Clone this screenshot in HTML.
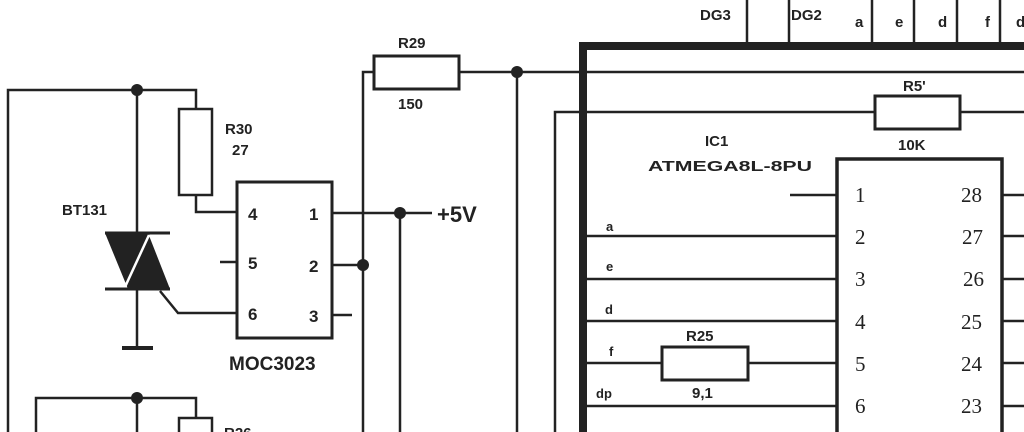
<!DOCTYPE html>
<html><head><style>
html,body{margin:0;padding:0;background:#fff;width:1024px;height:432px;overflow:hidden}
svg{display:block}
.s{font-family:"Liberation Sans",sans-serif;font-weight:bold;fill:#222}
.n{font-family:"Liberation Serif",serif;fill:#222;font-size:21px}
</style></head><body>
<svg width="1024" height="432" viewBox="0 0 1024 432" xmlns="http://www.w3.org/2000/svg" overflow="hidden">
<g stroke="#222" stroke-width="2.5" fill="none">
<polyline points="8,432 8,90 196,90 196,109"/>
<rect x="179" y="109" width="33" height="86"/>
<polyline points="196,195 196,212 237,212"/>
<line x1="137" y1="90" x2="137" y2="348"/>
<line x1="122" y1="348" x2="153" y2="348" stroke-width="4"/>
<line x1="105" y1="233" x2="170" y2="233" stroke-width="3"/>
<line x1="105" y1="289" x2="170" y2="289" stroke-width="3"/>
<polyline points="160,291 178,313 237,313"/>
<rect x="237" y="182" width="95" height="156" stroke-width="3"/>
<line x1="220" y1="262" x2="237" y2="262"/>
<line x1="332" y1="315" x2="352" y2="315"/>
<line x1="332" y1="213" x2="432" y2="213"/>
<line x1="332" y1="265" x2="363" y2="265"/>
<polyline points="363,432 363,72 374,72"/>
<line x1="400" y1="213" x2="400" y2="432"/>
<rect x="374" y="56" width="85" height="33" stroke-width="3"/>
<line x1="459" y1="72" x2="1024" y2="72"/>
<line x1="517" y1="72" x2="517" y2="432"/>
<polyline points="555,432 555,112 875,112"/>
<rect x="875" y="96" width="85" height="33" stroke-width="3"/>
<line x1="960" y1="112" x2="1024" y2="112"/>
<line x1="747" y1="0" x2="747" y2="44"/>
<line x1="789" y1="0" x2="789" y2="44"/>
<line x1="872" y1="0" x2="872" y2="44"/>
<line x1="914" y1="0" x2="914" y2="44"/>
<line x1="957" y1="0" x2="957" y2="44"/>
<line x1="1000" y1="0" x2="1000" y2="44"/>
<polyline points="583,432 583,46 1024,46" stroke-width="8"/>
<polyline points="837,432 837,159 1002,159 1002,432" stroke-width="3.5"/>
<line x1="790" y1="195" x2="837" y2="195"/>
<line x1="587" y1="236" x2="837" y2="236"/>
<line x1="587" y1="279" x2="837" y2="279"/>
<line x1="587" y1="321" x2="837" y2="321"/>
<line x1="587" y1="363" x2="662" y2="363"/>
<line x1="748" y1="363" x2="837" y2="363"/>
<rect x="662" y="347" width="86" height="33" stroke-width="3"/>
<line x1="587" y1="406" x2="837" y2="406"/>
<line x1="1002" y1="195" x2="1024" y2="195"/>
<line x1="1002" y1="236" x2="1024" y2="236"/>
<line x1="1002" y1="279" x2="1024" y2="279"/>
<line x1="1002" y1="321" x2="1024" y2="321"/>
<line x1="1002" y1="363" x2="1024" y2="363"/>
<line x1="1002" y1="406" x2="1024" y2="406"/>
<polyline points="36,432 36,398 196,398 196,418"/>
<line x1="137" y1="398" x2="137" y2="432"/>
<polyline points="179,432 179,418 212,418 212,432"/>
</g>
<polygon points="105,233 150,233 128,289" fill="#222"/>
<polygon points="127,289 170,289 148,233" fill="#222"/>
<line x1="125" y1="287" x2="149" y2="235" stroke="#fff" stroke-width="2.5"/>
<g fill="#222">
<circle cx="137" cy="90" r="6"/><circle cx="400" cy="213" r="6"/><circle cx="363" cy="265" r="6"/>
<circle cx="517" cy="72" r="6"/><circle cx="137" cy="398" r="6"/>
</g>
<g class="s" font-size="15">
<text x="62" y="215">BT131</text>
<text x="225" y="134">R30</text>
<text x="232" y="155">27</text>
<text x="398" y="48">R29</text>
<text x="398" y="109">150</text>
<text x="229" y="370" font-size="19">MOC3023</text>
<text x="437" y="222" font-size="22">+5V</text>
<text x="700" y="20">DG3</text>
<text x="791" y="20">DG2</text>
<text x="855" y="27">a</text>
<text x="895" y="27">e</text>
<text x="938" y="27">d</text>
<text x="985" y="27">f</text>
<text x="1016" y="27">d</text>
<text x="903" y="91">R5'</text>
<text x="898" y="150">10K</text>
<text x="705" y="146">IC1</text>
<text x="648" y="171" font-size="15" textLength="164" lengthAdjust="spacingAndGlyphs">ATMEGA8L-8PU</text>
<text x="606" y="231" font-size="13">a</text>
<text x="606" y="271" font-size="13">e</text>
<text x="605" y="314" font-size="13">d</text>
<text x="609" y="356" font-size="13">f</text>
<text x="596" y="398" font-size="13">dp</text>
<text x="686" y="341">R25</text>
<text x="692" y="398">9,1</text>
<text x="224" y="438">R26</text>
</g>
<g class="s" font-size="17">
<text x="248" y="220">4</text><text x="248" y="269">5</text><text x="248" y="320">6</text>
<text x="309" y="220">1</text><text x="309" y="272">2</text><text x="309" y="322">3</text>
</g>
<g class="n">
<text x="855" y="202">1</text><text x="855" y="244">2</text><text x="855" y="286">3</text>
<text x="855" y="329">4</text><text x="855" y="371">5</text><text x="855" y="413">6</text>
<text x="961" y="202">28</text><text x="962" y="244">27</text><text x="963" y="286">26</text>
<text x="961" y="329">25</text><text x="961" y="371">24</text><text x="961" y="413">23</text>
</g>
</svg>
</body></html>
